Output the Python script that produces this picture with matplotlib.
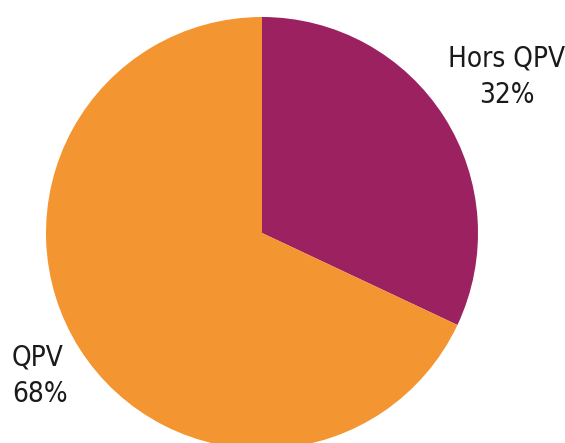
import matplotlib.pyplot as plt

labels = ["Hors QPV", "QPV"]
shares = [32, 68]
colors = ["#9B2160", "#F39531"]

plt.rcParams['font.family'] = ['DejaVu Sans']
plt.rcParams['font.stretch'] = 'condensed'

fig = plt.figure(figsize=(5.65, 4.43), dpi=100)
ax = fig.add_axes([0, 0, 1, 1])

# pie in pixel coordinates, bottom is cut by the figure edge
ax.pie(shares, colors=colors, startangle=90, counterclock=False,
       center=(262, 210), radius=216, frame=True,
       wedgeprops=dict(linewidth=0))
ax.set_xlim(0, 565)
ax.set_ylim(0, 443)
ax.set_aspect('equal')
ax.axis('off')

ax.text(507, 443 - 77, f"{labels[0]}\n{shares[0]}%", ha="center", va="center",
        fontsize=20, color="#1a1a1a", linespacing=1.4)
ax.text(12, 443 - 376, f"{labels[1]}\n{shares[1]}%", ha="left", va="center",
        fontsize=20, color="#1a1a1a", linespacing=1.4)

fig.savefig("out.png", dpi=100)
